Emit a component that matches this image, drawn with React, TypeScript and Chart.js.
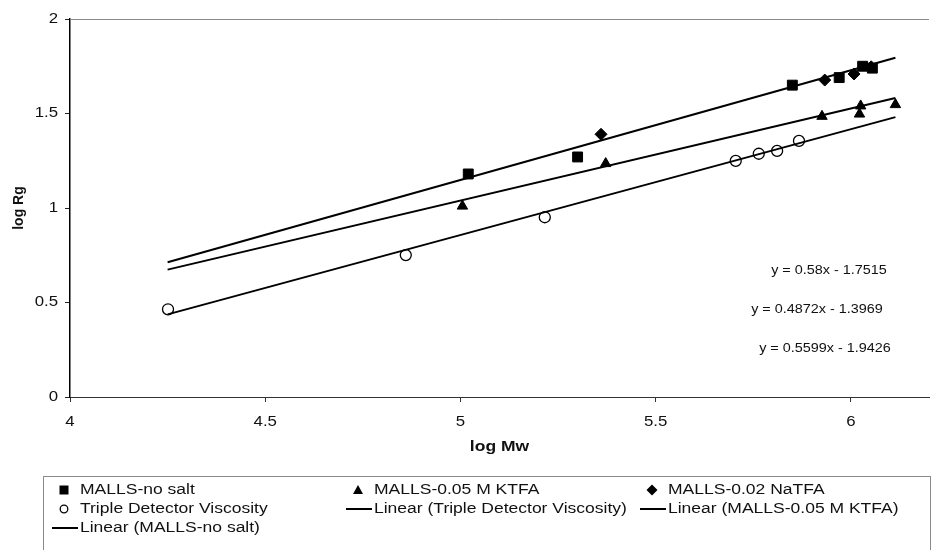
import React, { useEffect, useRef } from 'react';
import { Chart, registerables } from 'chart.js';

Chart.register(...registerables);

// ---- data ----
const noSaltX = [5.02, 5.30, 5.85, 5.97, 6.03, 6.055];
const noSaltY = [1.18, 1.27, 1.65, 1.69, 1.75, 1.74];

const ktfaX = [5.005, 5.372, 5.926, 6.022, 6.025, 6.114];
const ktfaY = [1.01, 1.235, 1.485, 1.497, 1.54, 1.547];

const natfaX = [5.36, 5.933, 6.008, 6.052];
const natfaY = [1.39, 1.677, 1.709, 1.747];

const tdvX = [4.251, 4.86, 5.216, 5.705, 5.764, 5.811, 5.867];
const tdvY = [0.464, 0.751, 0.951, 1.249, 1.287, 1.302, 1.355];

const trendX = [4.25, 6.114];
const noSaltFitY = [0.713, 1.795];
const ktfaFitY = [0.674, 1.582];
const tdvFitY = [0.437, 1.481];

const xTicks = [4, 4.5, 5, 5.5, 6];
const yTicks = [0, 0.5, 1, 1.5, 2];
const xTickLabels = ['4', '4.5', '5', '5.5', '6'];
const yTickLabels = ['0', '0.5', '1', '1.5', '2'];

const xTitle = 'log Mw';
const yTitle = 'log Rg';

const equationLabels = ['y = 0.58x - 1.7515', 'y = 0.4872x - 1.3969', 'y = 0.5599x - 1.9426'];

const legendLabels = [
  'MALLS-no salt',
  'MALLS-0.05 M KTFA',
  'MALLS-0.02 NaTFA',
  'Triple Detector Viscosity',
  'Linear (Triple Detector Viscosity)',
  'Linear (MALLS-0.05 M KTFA)',
  'Linear (MALLS-no salt)',
];
const legendSymbols = ['square', 'triangle', 'diamond', 'circle', 'line', 'line', 'line'];

// ---- layout (not data) ----
const FONT = '"Liberation Sans", Arial, sans-serif';
const INK = '#111';
const equationPos = [
  [829, 271],
  [817, 310],
  [825, 349],
];
const legendTextX = [80, 374, 668];
const legendRowY = [490, 509, 528];

function sText(
  ctx: CanvasRenderingContext2D,
  text: string,
  x: number,
  y: number,
  align: CanvasTextAlign,
  font: string,
  stretch: number,
  rotate = 0
) {
  ctx.save();
  ctx.translate(x, y);
  if (rotate) ctx.rotate(rotate);
  ctx.scale(stretch, 1);
  ctx.font = font;
  ctx.fillStyle = INK;
  ctx.textAlign = align;
  ctx.textBaseline = 'middle';
  ctx.fillText(text, 0, 0);
  ctx.restore();
}

const decorPlugin = {
  id: 'decor',
  beforeDatasetsDraw(chart: any) {
    const { ctx, chartArea } = chart;
    ctx.save();
    ctx.strokeStyle = '#8a8a8a';
    ctx.lineWidth = 1;
    ctx.beginPath();
    ctx.moveTo(chartArea.left, chartArea.top + 0.5);
    ctx.lineTo(chartArea.right, chartArea.top + 0.5);
    ctx.stroke();
    ctx.restore();
  },
  afterDraw(chart: any) {
    const { ctx, chartArea } = chart;
    const xs = chart.scales.x;
    const ys = chart.scales.y;
    const tickFont = `14px ${FONT}`;
    // y tick labels
    ys.ticks.forEach((t: any, i: number) => {
      const py = ys.getPixelForValue(t.value);
      sText(ctx, yTickLabels[i], chartArea.left - 12, py, 'right', tickFont, 1.2);
    });
    // x tick labels
    xs.ticks.forEach((t: any, i: number) => {
      const px = xs.getPixelForValue(t.value);
      sText(ctx, xTickLabels[i], px, chartArea.bottom + 25, 'center', tickFont, 1.2);
    });
    // axis titles
    const titleFont = `bold 14px ${FONT}`;
    sText(ctx, xTitle, (chartArea.left + chartArea.right) / 2, chartArea.bottom + 50, 'center', titleFont, 1.25);
    sText(ctx, yTitle, 19, (chartArea.top + chartArea.bottom) / 2, 'center', titleFont, 1, -Math.PI / 2);
    // equations
    equationLabels.forEach((s, i) => {
      sText(ctx, s, equationPos[i][0], equationPos[i][1], 'center', `12px ${FONT}`, 1.2);
    });
    // legend box
    ctx.save();
    ctx.strokeStyle = '#8a8a8a';
    ctx.lineWidth = 1;
    ctx.strokeRect(43.5, 476.5, 887, 100);
    ctx.restore();
    // legend items
    legendLabels.forEach((label, i) => {
      const col = i % 3;
      const row = Math.floor(i / 3);
      const tx = legendTextX[col];
      const y = legendRowY[row];
      const mx = tx - 16;
      const sym = legendSymbols[i];
      ctx.save();
      ctx.fillStyle = '#000';
      ctx.strokeStyle = '#000';
      if (sym === 'square') {
        ctx.fillRect(mx - 4.5, y - 4.5, 9, 9);
      } else if (sym === 'triangle') {
        ctx.beginPath();
        ctx.moveTo(mx, y - 5);
        ctx.lineTo(mx + 5, y + 4);
        ctx.lineTo(mx - 5, y + 4);
        ctx.closePath();
        ctx.fill();
      } else if (sym === 'diamond') {
        ctx.beginPath();
        ctx.moveTo(mx, y - 5.5);
        ctx.lineTo(mx + 5.5, y);
        ctx.lineTo(mx, y + 5.5);
        ctx.lineTo(mx - 5.5, y);
        ctx.closePath();
        ctx.fill();
      } else if (sym === 'circle') {
        ctx.lineWidth = 1.3;
        ctx.fillStyle = '#fff';
        ctx.beginPath();
        ctx.arc(mx, y, 3.8, 0, Math.PI * 2);
        ctx.fill();
        ctx.stroke();
      } else {
        ctx.lineWidth = 2;
        ctx.beginPath();
        ctx.moveTo(tx - 28, y);
        ctx.lineTo(tx - 2, y);
        ctx.stroke();
      }
      ctx.restore();
      sText(ctx, label, tx, y, 'left', `14px ${FONT}`, 1.25);
    });
  },
};

function pts(xs: number[], ys: number[]) {
  return xs.map((x, i) => ({ x, y: ys[i] }));
}

export default function App() {
  const ref = useRef<HTMLCanvasElement>(null);
  useEffect(() => {
    document.body.style.margin = '0';
    const canvas = ref.current;
    if (!canvas) return;
    const lineDs = (label: string, ys: number[]) => ({
      label,
      data: pts(trendX, ys),
      showLine: true,
      borderColor: '#000',
      borderWidth: 2,
      pointRadius: 0,
      fill: false,
      order: 0,
    });
    const chart = new Chart(canvas, {
      type: 'scatter',
      data: {
        datasets: [
          lineDs('Linear (Triple Detector Viscosity)', tdvFitY),
          lineDs('Linear (MALLS-0.05 M KTFA)', ktfaFitY),
          lineDs('Linear (MALLS-no salt)', noSaltFitY),
          {
            label: 'MALLS-no salt',
            data: pts(noSaltX, noSaltY),
            pointStyle: 'rect',
            pointRadius: 7,
            backgroundColor: '#000',
            borderColor: '#000',
            borderWidth: 1,
            order: 1,
          },
          {
            label: 'MALLS-0.05 M KTFA',
            data: pts(ktfaX, ktfaY),
            pointStyle: 'triangle',
            pointRadius: 6,
            backgroundColor: '#000',
            borderColor: '#000',
            borderWidth: 1,
            order: 1,
          },
          {
            label: 'MALLS-0.02 NaTFA',
            data: pts(natfaX, natfaY),
            pointStyle: 'rectRot',
            pointRadius: 6,
            backgroundColor: '#000',
            borderColor: '#000',
            borderWidth: 1,
            order: 1,
          },
          {
            label: 'Triple Detector Viscosity',
            data: pts(tdvX, tdvY),
            pointStyle: 'circle',
            pointRadius: 5.5,
            backgroundColor: '#fff',
            borderColor: '#000',
            borderWidth: 1.3,
            order: 1,
          },
        ] as any,
      },
      options: {
        animation: false,
        responsive: false,
        events: [],
        layout: { padding: { left: 0, top: 19, right: 4, bottom: 0 } },
        plugins: {
          legend: { display: false },
          tooltip: { enabled: false },
        },
        scales: {
          x: {
            type: 'linear',
            min: 4,
            max: 6.2,
            afterBuildTicks: (s: any) => {
              s.ticks = xTicks.map((v) => ({ value: v }));
            },
            afterFit: (s: any) => {
              s.height = 153;
            },
            ticks: { display: false },
            grid: { display: true, drawOnChartArea: false, drawTicks: true, tickLength: 5, color: '#333', lineWidth: 1 },
            border: { display: true, color: '#333', width: 1 },
          },
          y: {
            type: 'linear',
            min: 0,
            max: 2,
            afterBuildTicks: (s: any) => {
              s.ticks = yTicks.map((v) => ({ value: v }));
            },
            afterFit: (s: any) => {
              s.width = 70;
            },
            ticks: { display: false },
            grid: { display: true, drawOnChartArea: false, drawTicks: true, tickLength: 5, color: '#222', lineWidth: 1 },
            border: { display: true, color: '#000', width: 1.5 },
          },
        },
      } as any,
      plugins: [decorPlugin],
    });
    return () => chart.destroy();
  }, []);
  return (
    <canvas
      ref={ref}
      width={937}
      height={550}
      style={{ display: 'block', width: '937px', height: '550px' }}
    />
  );
}
